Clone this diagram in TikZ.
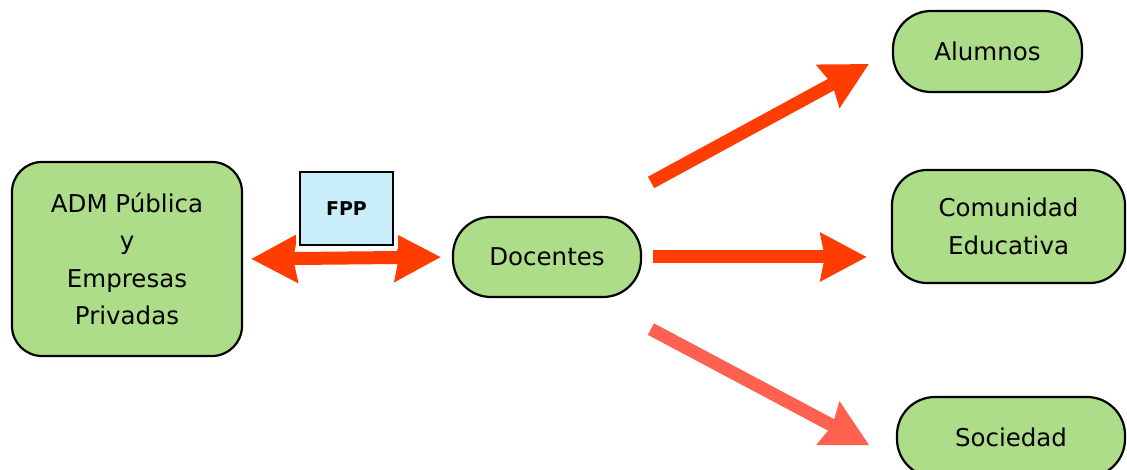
\documentclass[tikz,border=0pt]{standalone}
\usepackage{fontspec}
\setmainfont{DejaVu Sans}
\usetikzlibrary{arrows.meta, positioning}
\definecolor{cajaverde}{RGB}{174,221,138}
\definecolor{cajaazul}{RGB}{201,238,249}
\definecolor{rojofuerte}{RGB}{255,61,0}
\definecolor{rojosuave}{RGB}{255,97,80}

\begin{document}
\begin{tikzpicture}[x=1pt, y=-1pt,
	caja/.style={draw=black, line width=2.2pt, fill=cajaverde, rounded corners=38pt,
		inner sep=0pt, align=center, font=\fontsize{24.5}{37.5}\selectfont},
	etiqueta/.style={draw=black, line width=2.2pt, fill=cajaazul, inner sep=0pt,
		preaction={draw=white, line width=9pt},
		minimum width=93pt, minimum height=73pt, font=\fontsize{19}{22}\selectfont\bfseries},
	punta/.tip={Stealth[inset=4pt, length=46pt, width=47pt]},
	flecha/.style={line width=13pt, draw=rojofuerte, -punta}]
				\useasboundingbox (0,0) rectangle (1127,470);

				\node[caja, minimum width=230pt, minimum height=194pt, rounded corners=30pt] (adm) at (127,259) {ADM Pública\\y\\Empresas\\Privadas};
				\node[caja, minimum width=188pt, minimum height=80pt] (doc) at (547,257) {Docentes};
				\node[caja, minimum width=189pt, minimum height=81pt] (alu) at (987.5,51.5) {Alumnos};
				\node[caja, minimum width=233pt, minimum height=113pt, rounded corners=35pt] (com) at (1008.5,226.5) {Comunidad\\Educativa};
				\node[caja, minimum width=228pt, minimum height=80pt] (soc) at (1011,437) {Sociedad};

				\draw[flecha, punta-punta, shorten <=8pt, shorten >=11pt] (adm.east) -- (doc.west);
				\node[etiqueta] (fpp) at (346.5,208.5) {FPP};

				\draw[flecha, shorten <=70pt, shorten >=26pt] (doc.44) -- (alu.west);
				\draw[flecha, shorten <=11pt, shorten >=24pt] (doc.east) -- (doc.east -| com.west);
				\draw[flecha, draw=rojosuave, shorten <=66pt, shorten >=30pt] (doc.-42) -- (soc.191);

			\end{tikzpicture}
\end{document}
